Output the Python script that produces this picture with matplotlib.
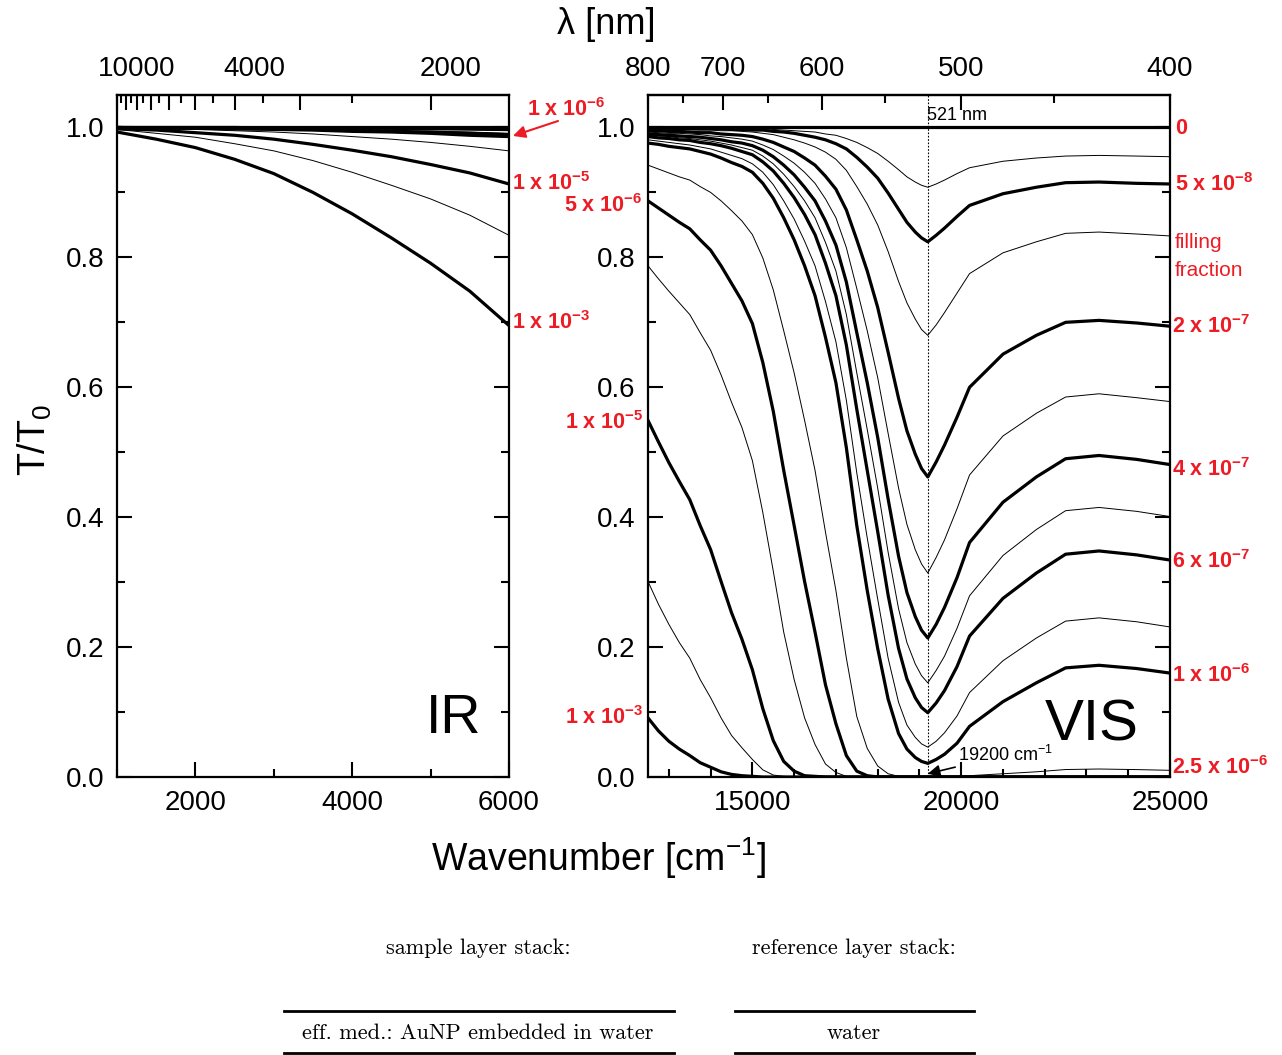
import numpy as np
import matplotlib
matplotlib.use("Agg")
import matplotlib.pyplot as plt
from matplotlib.lines import Line2D
from matplotlib.ticker import FormatStrFormatter
from matplotlib.transforms import ScaledTranslation

plt.rcParams['font.family'] = ['Liberation Sans', 'DejaVu Sans']
plt.rcParams['mathtext.fontset'] = 'custom'
plt.rcParams['mathtext.rm'] = 'Liberation Sans'
plt.rcParams['mathtext.bf'] = 'Liberation Sans:bold'
plt.rcParams['mathtext.it'] = 'Liberation Sans:italic'

# ---- IR panel data (wavenumber in cm^-1, T/T0) ----
ir_nu = [1000, 1500, 2000, 2500, 3000, 3500, 4000, 4500, 5000, 5500, 6000]
ir_0 = [1.0] * 11
ir_2e7 = [1.0, 1.0, 1.0, 1.0, 0.999, 0.999, 0.999, 0.999, 0.998, 0.998, 0.997]
ir_3e7 = [1.0, 1.0, 1.0, 0.999, 0.999, 0.999, 0.998, 0.997, 0.997, 0.996, 0.995]
ir_5e7 = [1.0, 1.0, 0.999, 0.999, 0.998, 0.997, 0.996, 0.995, 0.994, 0.993, 0.991]
ir_6e7 = [1.0, 0.999, 0.999, 0.998, 0.998, 0.997, 0.996, 0.994, 0.993, 0.991, 0.989]
ir_1e6 = [1.0, 0.999, 0.999, 0.998, 0.997, 0.996, 0.994, 0.993, 0.991, 0.988, 0.986]
ir_2_5e6 = [0.999, 0.998, 0.997, 0.995, 0.993, 0.990, 0.986, 0.982, 0.977, 0.971, 0.964]
ir_5e6 = [0.998, 0.996, 0.992, 0.988, 0.982, 0.974, 0.965, 0.955, 0.943, 0.930, 0.913]
ir_1e5 = [0.997, 0.991, 0.985, 0.975, 0.964, 0.949, 0.931, 0.911, 0.890, 0.865, 0.834]
ir_2_5e5 = [0.993, 0.982, 0.969, 0.951, 0.929, 0.900, 0.867, 0.830, 0.791, 0.748, 0.695]

# ---- VIS panel data ----
vis_nu = [12500, 12750, 13000, 13250, 13500, 13750, 14000, 14250, 14500, 14750, 15000, 15250, 15500,
          15750, 16000, 16250, 16500, 16750, 17000, 17250, 17500, 17750, 18000, 18250, 18500, 18700,
          18900, 19050, 19200, 19400, 19600, 19900, 20200, 21000, 21800, 22500, 23300, 24200, 25000]
t_0 = [1.0] * 39
t_2_5e8 = [0.999, 0.999, 0.999, 0.999, 0.999, 0.999, 0.999, 0.999, 0.999, 0.998, 0.998, 0.998, 0.997,
           0.996, 0.995, 0.994, 0.993, 0.990, 0.988, 0.983, 0.977, 0.969, 0.960, 0.948, 0.935, 0.924,
           0.916, 0.911, 0.908, 0.913, 0.919, 0.929, 0.938, 0.948, 0.953, 0.956, 0.957, 0.956, 0.955]
t_5e8 = [0.999, 0.999, 0.999, 0.998, 0.998, 0.998, 0.998, 0.998, 0.997, 0.997, 0.996, 0.996, 0.994,
         0.993, 0.991, 0.988, 0.985, 0.981, 0.975, 0.967, 0.954, 0.939, 0.922, 0.899, 0.874, 0.854,
         0.839, 0.830, 0.824, 0.834, 0.845, 0.863, 0.880, 0.898, 0.908, 0.915, 0.916, 0.914, 0.913]
t_1e7 = [0.998, 0.997, 0.997, 0.997, 0.997, 0.996, 0.996, 0.995, 0.995, 0.994, 0.993, 0.991, 0.989,
         0.985, 0.981, 0.976, 0.970, 0.962, 0.951, 0.934, 0.909, 0.882, 0.850, 0.809, 0.763, 0.730,
         0.705, 0.689, 0.680, 0.696, 0.715, 0.745, 0.775, 0.807, 0.824, 0.837, 0.839, 0.836, 0.833]
t_2e7 = [0.995, 0.995, 0.994, 0.994, 0.993, 0.992, 0.992, 0.990, 0.989, 0.988, 0.986, 0.982, 0.977,
         0.970, 0.963, 0.953, 0.942, 0.925, 0.905, 0.873, 0.827, 0.779, 0.723, 0.654, 0.583, 0.533,
         0.497, 0.475, 0.462, 0.485, 0.511, 0.554, 0.600, 0.651, 0.680, 0.700, 0.703, 0.699, 0.694]
t_3e7 = [0.993, 0.992, 0.991, 0.991, 0.990, 0.989, 0.987, 0.986, 0.984, 0.982, 0.979, 0.973, 0.966,
         0.956, 0.945, 0.931, 0.914, 0.890, 0.861, 0.815, 0.752, 0.687, 0.615, 0.529, 0.445, 0.389,
         0.350, 0.328, 0.314, 0.338, 0.365, 0.413, 0.465, 0.525, 0.560, 0.585, 0.590, 0.584, 0.578]
t_4e7 = [0.990, 0.989, 0.988, 0.987, 0.986, 0.985, 0.983, 0.981, 0.978, 0.976, 0.972, 0.965, 0.955,
         0.942, 0.927, 0.908, 0.887, 0.856, 0.819, 0.762, 0.684, 0.607, 0.523, 0.428, 0.340, 0.284,
         0.247, 0.226, 0.214, 0.235, 0.261, 0.307, 0.361, 0.423, 0.462, 0.490, 0.495, 0.489, 0.481]
t_5e7 = [0.988, 0.987, 0.986, 0.984, 0.983, 0.981, 0.979, 0.976, 0.973, 0.969, 0.965, 0.956, 0.944,
         0.928, 0.909, 0.887, 0.861, 0.823, 0.779, 0.712, 0.622, 0.535, 0.445, 0.346, 0.259, 0.207,
         0.174, 0.156, 0.145, 0.164, 0.186, 0.229, 0.279, 0.341, 0.381, 0.410, 0.415, 0.409, 0.401]
t_6e7 = [0.986, 0.984, 0.983, 0.981, 0.980, 0.977, 0.975, 0.972, 0.968, 0.963, 0.958, 0.947, 0.933,
         0.914, 0.892, 0.866, 0.835, 0.791, 0.741, 0.665, 0.566, 0.472, 0.378, 0.280, 0.198, 0.151,
         0.122, 0.107, 0.099, 0.114, 0.133, 0.170, 0.217, 0.275, 0.314, 0.343, 0.348, 0.342, 0.334]
t_8e7 = [0.981, 0.979, 0.977, 0.975, 0.973, 0.970, 0.967, 0.962, 0.957, 0.952, 0.944, 0.931, 0.912,
         0.887, 0.859, 0.825, 0.787, 0.732, 0.670, 0.580, 0.468, 0.368, 0.274, 0.183, 0.115, 0.080,
         0.061, 0.051, 0.046, 0.055, 0.068, 0.094, 0.130, 0.179, 0.214, 0.240, 0.245, 0.239, 0.231]
t_1e6 = [0.976, 0.974, 0.971, 0.969, 0.967, 0.963, 0.959, 0.953, 0.946, 0.940, 0.931, 0.914, 0.891,
         0.861, 0.827, 0.787, 0.741, 0.677, 0.607, 0.507, 0.387, 0.287, 0.198, 0.120, 0.067, 0.043,
         0.030, 0.024, 0.021, 0.027, 0.035, 0.052, 0.078, 0.116, 0.145, 0.168, 0.172, 0.167, 0.160]
t_2_5e6 = [0.942, 0.936, 0.930, 0.924, 0.919, 0.909, 0.900, 0.887, 0.872, 0.856, 0.835, 0.799, 0.750,
           0.687, 0.622, 0.549, 0.472, 0.377, 0.287, 0.183, 0.093, 0.044, 0.017, 0.005, 0.001, 0.0,
           0.0, 0.0, 0.0, 0.0, 0.0, 0.001, 0.002, 0.005, 0.008, 0.0115, 0.0123, 0.0114, 0.0103]
t_5e6 = [0.887, 0.876, 0.865, 0.854, 0.844, 0.827, 0.811, 0.787, 0.760, 0.733, 0.698, 0.638, 0.563,
         0.472, 0.387, 0.301, 0.223, 0.142, 0.082, 0.033, 0.009, 0.002, 0.0, 0.0, 0.0, 0.0,
         0.0, 0.0, 0.0, 0.0, 0.0, 0.0, 0.0, 0.0, 0.0, 0.0, 0.0, 0.0, 0.0]
t_1e5 = [0.787, 0.767, 0.748, 0.730, 0.712, 0.684, 0.657, 0.619, 0.577, 0.538, 0.487, 0.407, 0.317,
         0.223, 0.150, 0.091, 0.050, 0.020, 0.007, 0.001, 0.0, 0.0, 0.0, 0.0, 0.0, 0.0,
         0.0, 0.0, 0.0, 0.0, 0.0, 0.0, 0.0, 0.0, 0.0, 0.0, 0.0, 0.0, 0.0]
t_2_5e5 = [0.549, 0.516, 0.484, 0.455, 0.427, 0.387, 0.350, 0.301, 0.253, 0.212, 0.165, 0.105, 0.056,
           0.024, 0.009, 0.002, 0.001, 0.0, 0.0, 0.0, 0.0, 0.0, 0.0, 0.0, 0.0, 0.0,
           0.0, 0.0, 0.0, 0.0, 0.0, 0.0, 0.0, 0.0, 0.0, 0.0, 0.0, 0.0, 0.0]
t_5e5 = [0.301, 0.266, 0.235, 0.207, 0.183, 0.150, 0.122, 0.091, 0.064, 0.045, 0.027, 0.011, 0.003,
         0.001, 0.0, 0.0, 0.0, 0.0, 0.0, 0.0, 0.0, 0.0, 0.0, 0.0, 0.0, 0.0,
         0.0, 0.0, 0.0, 0.0, 0.0, 0.0, 0.0, 0.0, 0.0, 0.0, 0.0, 0.0, 0.0]
t_1e4 = [0.091, 0.071, 0.055, 0.043, 0.033, 0.022, 0.015, 0.008, 0.004, 0.002, 0.001, 0.0, 0.0,
         0.0, 0.0, 0.0, 0.0, 0.0, 0.0, 0.0, 0.0, 0.0, 0.0, 0.0, 0.0, 0.0,
         0.0, 0.0, 0.0, 0.0, 0.0, 0.0, 0.0, 0.0, 0.0, 0.0, 0.0, 0.0, 0.0]

THICK, THIN = 2.3, 0.7
ir_curves = [(ir_0, THICK), (ir_2e7, THICK), (ir_3e7, THIN), (ir_5e7, THIN), (ir_6e7, THICK),
             (ir_1e6, THICK), (ir_2_5e6, THIN), (ir_5e6, THICK), (ir_1e5, THIN), (ir_2_5e5, THICK)]
vis_curves = [(t_0, THICK), (t_2_5e8, THIN), (t_5e8, THICK), (t_1e7, THIN), (t_2e7, THICK),
              (t_3e7, THIN), (t_4e7, THICK), (t_5e7, THIN), (t_6e7, THICK), (t_8e7, THIN),
              (t_1e6, THICK), (t_2_5e6, THIN), (t_5e6, THICK), (t_1e5, THIN), (t_2_5e5, THICK),
              (t_5e5, THIN), (t_1e4, THICK)]

red = '#ed1c24'
W, H = 1282, 1055
fig = plt.figure(figsize=(W / 100, H / 100), dpi=100)


def fx(x):
    return x / W


def fy(y):
    return 1 - y / H


ax_ir = fig.add_axes([fx(117), fy(777), (509 - 117) / W, (777 - 95) / H])
ax_vis = fig.add_axes([fx(648), fy(777), (1170 - 648) / W, (777 - 95) / H])

for T, lw in ir_curves:
    ax_ir.plot(ir_nu, T, color='black', lw=lw, solid_joinstyle='round')
for T, lw in vis_curves:
    ax_vis.plot(vis_nu, T, color='black', lw=lw, solid_joinstyle='round')

ax_vis.axvline(19200, color='black', lw=0.8, ls=(0, (1.5, 1.5)))


def nu2nm(x):
    x = np.asarray(x, float)
    with np.errstate(divide='ignore'):
        return 1e7 / x


def style(ax, xlim, xmajor, xminor, nm_major, nm_minor, nm_labels):
    ax.set_xlim(*xlim)
    ax.set_ylim(0, 1.05)
    ax.set_xticks(xmajor)
    ax.set_xticks(xminor, minor=True)
    ax.set_yticks(np.arange(0, 1.01, 0.2))
    ax.set_yticks(np.arange(0.1, 1.01, 0.2), minor=True)
    ax.yaxis.set_major_formatter(FormatStrFormatter('%.1f'))
    ax.tick_params(which='both', direction='in', top=False, right=True, width=1.5,
                   labelsize=20, pad=9)
    ax.tick_params(which='major', length=11)
    ax.tick_params(which='minor', length=6)
    for s in ax.spines.values():
        s.set_linewidth(1.6)
    sec = ax.secondary_xaxis('top', functions=(nu2nm, nu2nm))
    sec.set_xticks(nm_major)
    sec.set_xticks(nm_minor, minor=True)
    sec.set_xticklabels(nm_labels)
    sec.tick_params(which='both', direction='in', width=1.5, labelsize=20, pad=9)
    sec.tick_params(which='major', length=11)
    sec.tick_params(which='minor', length=6)
    sec.spines['top'].set_linewidth(1.6)
    return sec


sec_ir = style(ax_ir, (1000, 6000), [2000, 4000, 6000], [1000, 3000, 5000],
               [10000, 9000, 8000, 7000, 6000, 5000, 4000, 3000, 2000],
               [9500, 8500, 7500, 6500, 5500, 4500, 3500, 2500],
               ['10000', '', '', '', '', '', '4000', '', '2000'])
sec_vis = style(ax_vis, (12500, 25000), [15000, 20000, 25000],
                [13000, 14000, 16000, 17000, 18000, 19000, 21000, 22000, 23000, 24000],
                [800, 700, 600, 500, 400], [750, 650, 550, 450],
                ['800', '700', '600', '500', '400'])

# IR top labels sit a bit to the right of their ticks in the original
shift = ScaledTranslation(0.2, 0, fig.dpi_scale_trans)
for lab in sec_ir.xaxis.get_majorticklabels():
    lab.set_transform(lab.get_transform() + shift)

# axis titles
fig.text(fx(606), fy(25), 'λ [nm]', fontsize=26, ha='center', va='center')
fig.text(fx(598), fy(858), r'Wavenumber [cm$^{-1}$]', fontsize=27, ha='center', va='center')
fig.text(fx(35), fy(440), r'T/T$_0$', fontsize=27, ha='center', va='center', rotation=90)

ax_ir.text(0.86, 0.085, 'IR', transform=ax_ir.transAxes, fontsize=40, ha='center', va='center')
ax_vis.text(0.85, 0.075, 'VIS', transform=ax_vis.transAxes, fontsize=42, ha='center', va='center')

fig.text(fx(927), fy(115), '521 nm', fontsize=13, ha='left', va='center')
ax_vis.annotate(r'19200 cm$^{-1}$', xy=(19200, 0.005), xytext=(958, fy(755) * H),
                textcoords='figure pixels', fontsize=13, ha='left', va='center',
                arrowprops=dict(arrowstyle='-|>', color='black', lw=1.2, mutation_scale=18,
                                shrinkA=0, shrinkB=0))


def red_label(x, y, s, size=15.5, **kw):
    fig.text(fx(x), fy(y), s, color=red, fontsize=size, ha='left', va='center', **kw)


def frac(a, e):
    return r'$\mathbf{' + a + r'\ x\ 10^{' + e + r'}}$'


red_label(527, 110, frac('1', '-6'))
ax_ir.annotate('', xy=(1.01, 0.94), xycoords='axes fraction',
               xytext=(558, fy(121) * H), textcoords='figure pixels',
               arrowprops=dict(arrowstyle='-|>', color=red, lw=1.5, mutation_scale=18,
                               shrinkA=0, shrinkB=0))
red_label(512, 184, frac('1', '-5'))
red_label(564, 206, frac('5', '-6'))
red_label(512, 323, frac('1', '-3'))
red_label(565, 423, frac('1', '-5'))
red_label(565, 718, frac('1', '-3'))
red_label(1175, 128, '0', fontweight='bold')
red_label(1175, 185, frac('5', '-8'))
red_label(1175, 242, 'filling', size=15)
red_label(1175, 270, 'fraction', size=15)
red_label(1172, 327, frac('2', '-7'))
red_label(1172, 470, frac('4', '-7'))
red_label(1172, 562, frac('6', '-7'))
red_label(1172, 676, frac('1', '-6'))
red_label(1172, 768, frac('2.5', '-6'))

# layer stack sketch under the plot
serif = dict(family='cmr10', fontsize=16, ha='center', va='center')
fig.text(fx(478), fy(948), 'sample layer stack:', **serif)
fig.text(fx(854), fy(948), 'reference layer stack:', **serif)
fig.text(fx(478), fy(1033), 'eff. med.: AuNP embedded in water', **serif)
fig.text(fx(854), fy(1033), 'water', **serif)
for x0, x1 in [(284, 674), (735, 974)]:
    for y in (1011, 1053):
        fig.add_artist(Line2D([fx(x0), fx(x1)], [fy(y), fy(y)], color='black', lw=2))

fig.savefig('out.png', dpi=100)
